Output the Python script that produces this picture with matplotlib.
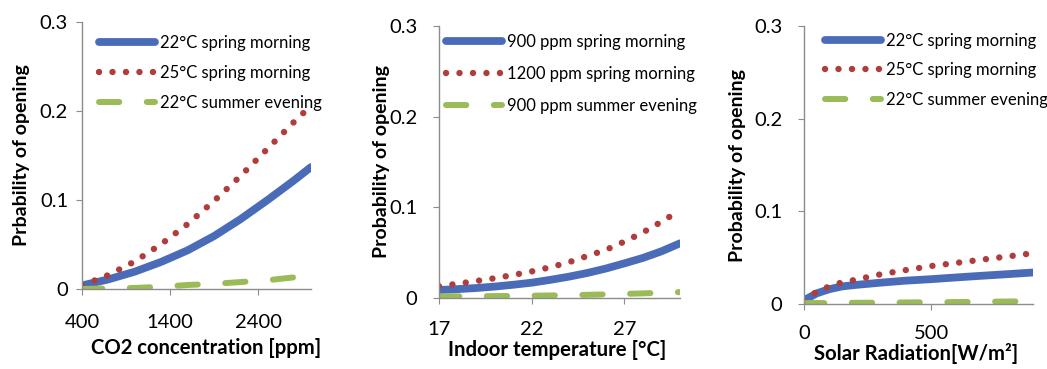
import numpy as np
import matplotlib
matplotlib.use('Agg')
import matplotlib.pyplot as plt

plt.rcParams['font.family'] = ['Lato', 'DejaVu Sans']

# panel 1: CO2 concentration
co2 = [400, 700, 1000, 1300, 1600, 1900, 2200, 2500, 2800, 3000]
co2_22_spring = [0.004, 0.0108, 0.0195, 0.0305, 0.0435, 0.0595, 0.0785, 0.0995, 0.1215, 0.137]
co2_25_spring = [0.004, 0.0157, 0.031, 0.0505, 0.073, 0.099, 0.127, 0.157, 0.187, 0.206]
co2_22_summer = [0.0, 0.0006, 0.0012, 0.0025, 0.0045, 0.0058, 0.0078, 0.0098, 0.013, 0.016]

# panel 2: indoor temperature
temp = [17, 18, 19, 20, 21, 22, 23, 24, 25, 26, 27, 28, 29, 30]
t_900_spring = [0.0088, 0.0098, 0.011, 0.0126, 0.0146, 0.0169, 0.020, 0.0235, 0.0276, 0.0325, 0.0382, 0.0442, 0.0515, 0.0603]
t_1200_spring = [0.013, 0.0157, 0.0187, 0.0218, 0.0254, 0.0293, 0.0339, 0.0394, 0.0463, 0.0531, 0.0622, 0.0723, 0.0842, 0.0965]
t_900_summer = [0.0018, 0.0019, 0.002, 0.0021, 0.0023, 0.0025, 0.0028, 0.0031, 0.0035, 0.004, 0.0045, 0.0051, 0.0058, 0.0065]

# panel 3: solar radiation
solar = [0, 50, 100, 150, 200, 300, 400, 500, 600, 700, 800, 900]
s_22_spring = [0.004, 0.0115, 0.016, 0.019, 0.0205, 0.023, 0.0252, 0.0268, 0.0287, 0.0305, 0.0322, 0.034]
s_25_spring = [0.003, 0.0135, 0.019, 0.0234, 0.026, 0.032, 0.0366, 0.041, 0.0444, 0.0479, 0.0513, 0.0548]
s_22_summer = [0.001, 0.001, 0.001, 0.0012, 0.0013, 0.0015, 0.0017, 0.0019, 0.0021, 0.0024, 0.0027, 0.003]

panels = [
    dict(x=co2, ys=[co2_22_spring, co2_25_spring, co2_22_summer],
         labels=['22°C spring morning', '25°C spring morning', '22°C summer evening'],
         xlim=(400, 3000), xticks=[400, 1400, 2400],
         xlabel='CO2 concentration [ppm]', ylabel='Prbability of opening', xfs=14.6,
         pos=[82, 22, 311, 289], ypad=6, xpad=14, ylab_x=22, xlab=(206, 348),
         leg=(99, 35), lsp=0.85),
    dict(x=temp, ys=[t_900_spring, t_1200_spring, t_900_summer],
         labels=['900 ppm spring morning', '1200 ppm spring morning', '900 ppm summer evening'],
         xlim=(17, 30), xticks=[17, 22, 27],
         xlabel='Indoor temperature [°C]', ylabel='Probability of opening', xfs=14.7,
         pos=[439, 26, 680, 298], ypad=11.5, xpad=12.5, ylab_x=382, xlab=(557, 350),
         leg=(446, 34), lsp=0.95),
    dict(x=solar, ys=[s_22_spring, s_25_spring, s_22_summer],
         labels=['22°C spring morning', '25°C spring morning', '22°C summer evening'],
         xlim=(0, 900), xticks=[0, 500],
         xlabel='Solar Radiation[W/m²]', ylabel='Probability of opening', xfs=14.6,
         pos=[804, 26, 1033, 304], ypad=11.5, xpad=11, ylab_x=738, xlab=(916, 354),
         leg=(825, 33), lsp=0.8),
]

W, H = 1047, 369
fig = plt.figure(figsize=(W / 100, H / 100), dpi=100)
blue, red, green = '#4a6cb8', '#b03c3c', '#9bbb59'
grey = '#8c8c8c'

for p in panels:
    l, t, r, b = p['pos']
    ax = fig.add_axes([l / W, 1 - b / H, (r - l) / W, (b - t) / H])
    ax.plot(p['x'], p['ys'][0], color=blue, lw=5.6, solid_capstyle='round', solid_joinstyle='round',
            label=p['labels'][0])
    ax.plot(p['x'], p['ys'][1], color=red, lw=4.6, dashes=(0.01, 2.1), dash_capstyle='round',
            label=p['labels'][1])
    ax.plot(p['x'], p['ys'][2], color=green, lw=4.3, dashes=(3.4, 4.6), dash_capstyle='round',
            label=p['labels'][2])
    ax.set_xlim(*p['xlim']); ax.set_ylim(0, 0.3)
    ax.set_xticks(p['xticks'])
    ax.set_yticks([0, 0.1, 0.2, 0.3], ['0', '0.1', '0.2', '0.3'])
    for s in ('top', 'right'):
        ax.spines[s].set_visible(False)
    for s in ('left', 'bottom'):
        ax.spines[s].set_color(grey); ax.spines[s].set_linewidth(1)
    ax.tick_params(direction='out', length=4, color=grey, labelsize=14.5)
    ax.tick_params(axis='y', pad=p['ypad'])
    ax.tick_params(axis='x', pad=p['xpad'])
    fig.text(p['ylab_x'] / W, 1 - (b + t) / 2 / H, p['ylabel'], rotation=90, ha='center', va='center',
             fontsize=14, fontweight='bold')
    fig.text(p['xlab'][0] / W, 1 - p['xlab'][1] / H, p['xlabel'], ha='center', va='center',
             fontsize=p['xfs'], fontweight='bold')
    lx, ly = p['leg']
    ax.legend(loc='upper left', bbox_to_anchor=(lx / W, 1 - ly / H), bbox_transform=fig.transFigure,
              frameon=False, fontsize=12, handlelength=3.35, handletextpad=0.3,
              labelspacing=p['lsp'], borderpad=0, borderaxespad=0)

fig.savefig('out.png', dpi=100)
